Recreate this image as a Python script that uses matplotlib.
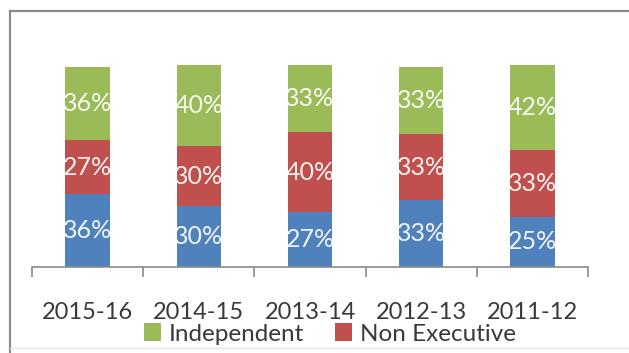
import matplotlib
matplotlib.use("Agg")
import matplotlib.pyplot as plt
from matplotlib.lines import Line2D
from matplotlib.patches import Patch
import numpy as np

plt.rcParams['font.family'] = ['Lato', 'DejaVu Sans']

# Board composition by year (percent of members)
years = ["2015-16", "2014-15", "2013-14", "2012-13", "2011-12"]
executive = [36, 30, 27, 33, 25]
non_executive = [27, 30, 40, 33, 33]
independent = [36, 40, 33, 33, 42]

BLUE = "#4F81BD"
RED = "#C0504D"
GREEN = "#9BBB59"
TEXT = "#3a3a3a"

W, H = 629, 353
fig = plt.figure(figsize=(W / 100, H / 100), dpi=100)
fig.patch.set_facecolor("white")

ax_left, ax_right, ax_top, ax_bottom = 32, 588, 65, 267
ax = fig.add_axes([ax_left / W, 1 - ax_bottom / H,
                   (ax_right - ax_left) / W, (ax_bottom - ax_top) / H])

x = np.arange(len(years))
width = 0.4
series = [(executive, BLUE, "Executive"),
          (non_executive, RED, "Non Executive"),
          (independent, GREEN, "Independent")]
base = np.zeros(len(years))
for vals, color, name in series:
    vals = np.array(vals, dtype=float)
    ax.bar(x, vals, width, bottom=base, color=color, label=name, linewidth=0)
    for xi, b, v in zip(x, base, vals):
        ax.text(xi, b + v / 2, f"{int(v)}%", ha="center", va="center",
                color="white", fontsize=18, alpha=0.92)
    base += vals

ax.set_xlim(-0.5, len(years) - 0.5)
ax.set_ylim(0, 100)
ax.set_yticks([])
for s in ("top", "right", "left"):
    ax.spines[s].set_visible(False)
ax.spines["bottom"].set_color("#8a8a8a")
ax.spines["bottom"].set_linewidth(1.2)

# category labels at bar centres, tick marks at category boundaries
ax.set_xticks(x)
ax.set_xticklabels(years, fontsize=17, color=TEXT)
ax.tick_params(axis="x", which="major", length=0, pad=25)
ax.set_xticks(np.arange(-0.5, len(years)), minor=True)
ax.tick_params(axis="x", which="minor", length=7, width=1.2,
               color="#8a8a8a", direction="out")

# legend below the axis
handles = [Patch(facecolor=GREEN, label="Independent"),
           Patch(facecolor=RED, label="Non Executive")]
fig.legend(handles=handles, loc="center", ncol=2,
           bbox_to_anchor=(330 / W, 1 - 334 / H), frameon=False,
           fontsize=17.5, labelcolor=TEXT, handlelength=0.7, handleheight=0.7,
           handletextpad=0.3, columnspacing=1.3, borderpad=0)

# chart area border (top and left edges)
fig.add_artist(Line2D([10 / W, 1], [1 - 11 / H, 1 - 11 / H],
                      transform=fig.transFigure, color="#8c8c8c", lw=1.6))
fig.add_artist(Line2D([10 / W, 10 / W], [0, 1 - 11 / H],
                      transform=fig.transFigure, color="#8c8c8c", lw=1.6))
fig.add_artist(Line2D([10 / W, 1], [1 - 348 / H, 1 - 348 / H],
                      transform=fig.transFigure, color="#e6e6e6", lw=1.0))

fig.savefig("out.png", dpi=100, facecolor="white")
